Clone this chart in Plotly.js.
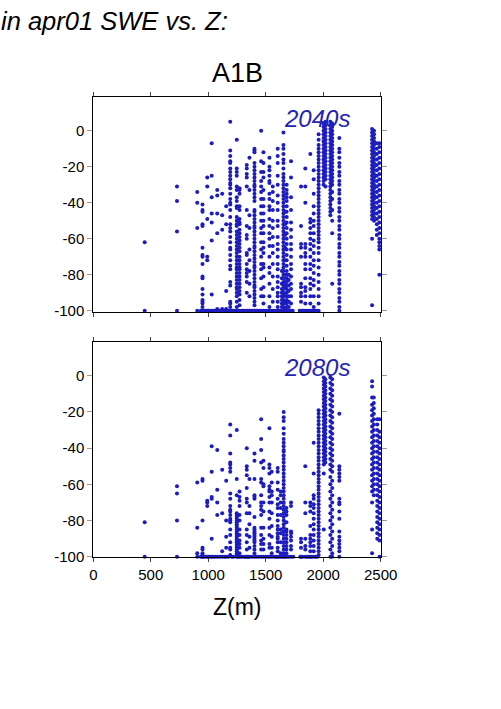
<!DOCTYPE html>
<html>
<head>
<meta charset="utf-8">
<script src="https://cdn.plot.ly/plotly-3.0.1.min.js"></script>
<style>html,body{margin:0;padding:0;background:#fff;}#chart{width:501px;height:709px;}</style>
</head>
<body>
<div id="chart"></div>
<script>
// ---------- data: panel 2040s (x = elevation column, ys = % change values) ----------
const cols2040 = [447, 728, 904, 950, 991, 1030, 1078, 1121, 1156, 1191, 1248, 1272, 1335, 1358, 1402, 1460, 1480, 1532, 1561, 1604, 1640, 1654, 1668, 1682, 1700, 1720, 1807, 1844, 1888, 1917, 1960, 2003, 2020, 2062, 2078, 2140, 2425, 2442, 2466, 2488];
const vals2040 = [
  [-62,-100],
  [-31,-39,-56,-100],
  [-34,-40,-54,-100],
  [-41,-44,-45,-52,-53,-65,-69,-70,-74,-81,-82,-88,-91,-94,-95,-96,-98,-100],
  [-26,-31,-49,-70,-72,-100],
  [-7,-25,-37,-46,-51,-61,-91,-100],
  [-33,-36,-46,-57,-99,-100],
  [-35,-47,-55,-99,-100],
  [-42,-52,-89,-99,-100],
  [5,-11,-14,-17,-18,-21,-23,-25,-27,-29,-30,-32,-35,-38,-40,-41,-44,-48,-52,-54,-56,-59,-62,-65,-66,-69,-72,-75,-77,-84,-86,-95,-96,-98,-100],
  [-5,-21,-23,-25,-31,-33,-37,-39,-42,-43,-48,-50,-52,-53,-56,-58,-60,-62,-64,-66,-68,-70,-72,-74,-76,-77,-79,-81,-83,-85,-87,-88,-90,-92,-95,-98,-100],
  [-32,-33,-35,-42,-44,-49,-51,-52,-55,-57,-59,-61,-63,-65,-67,-70,-72,-74,-76,-77,-79,-81,-83,-85,-87,-89,-91,-94,-97,-100],
  [-19,-21,-24,-26,-31,-44,-53,-58,-60,-68,-69,-74,-77,-79,-81,-84,-90,-100],
  [-15,-33,-47,-54,-66,-72,-78,-85,-92,-100],
  [-10,-11,-12,-18,-20,-22,-24,-26,-28,-30,-31,-33,-35,-37,-39,-44,-45,-47,-49,-51,-53,-54,-56,-58,-60,-62,-64,-65,-67,-69,-71,-73,-75,-76,-78,-80,-82,-84,-86,-87,-89,-91,-93,-95,-97,-100],
  [0,-17,-23,-28,-31,-34,-38,-42,-46,-50,-54,-57,-62,-66,-70,-74,-77,-82,-88,-92,-100],
  [-12,-18,-23,-26,-33,-38,-42,-46,-50,-53,-57,-62,-65,-68,-74,-76,-81,-87,-92,-96,-100],
  [-15,-20,-22,-25,-28,-29,-35,-38,-42,-44,-49,-53,-57,-60,-64,-70,-76,-79,-85,-92,-98,-100],
  [-31,-34,-39,-44,-50,-54,-59,-64,-68,-74,-81,-88,-95,-100],
  [-10,-14,-18,-25,-30,-36,-40,-44,-50,-53,-59,-63,-66,-70,-74,-77,-81,-84,-87,-90,-92,-95,-98,-100],
  [-78,-82,-85,-88,-90,-92,-94,-96,-98,-100],
  [-1,-8,-10,-13,-16,-18,-21,-24,-26,-28,-30,-32,-34,-36,-38,-40,-42,-44,-46,-48,-50,-52,-54,-56,-58,-60,-62,-64,-66,-68,-70,-72,-74,-76,-78,-80,-82,-84,-86,-88,-90,-92,-94,-96,-98,-100],
  [-45,-52,-58,-65,-72,-80,-84,-87,-91,-95,-99],
  [-30,-33,-35,-37,-39,-42,-45,-48,-51,-54,-57,-60,-63,-66,-69,-72,-75,-78,-80,-82,-84,-86,-88,-90,-92,-94,-96,-98,-100],
  [-80,-83,-86,-89,-92,-95,-98],
  [-17,-26,-37,-44,-51,-55,-59,-63,-66,-70,-74,-77,-81,-85,-88,-92,-96,-100],
  [-31,-53,-63,-65,-70,-85,-87,-90,-92,-95,-100],
  [-21,-31,-40,-63,-65,-68,-70,-74,-77,-82,-87,-89,-92,-96,-100],
  [-13,-49,-51,-54,-57,-60,-63,-66,-70,-74,-77,-82,-85,-88,-92,-96,-100],
  [-22,-27,-35,-42,-46,-50,-53,-57,-61,-64,-68,-72,-75,-79,-83,-86,-92,-98,-100],
  [-2,-5,-8,-10,-12,-14,-16,-18,-20,-22,-24,-26,-28,-30,-32,-34,-36,-38,-40,-42,-44,-46,-48,-50,-52,-54,-56,-58,-60,-62,-65,-68,-72,-76,-80,-84,-88,-92,-96,-100],
  [4,2,0,-2,-4,-6,-8,-10,-12,-14,-16,-18,-20,-22,-24,-26,-28,-30],
  [5,3,1,-1,-3,-5,-7,-9,-11,-13,-15,-17,-19,-21,-23,-25,-27,-31],
  [5,3,1,-1,-3,-5,-7,-9,-11,-13,-15,-17,-19,-21,-23,-25,-27,-29,-31,-33,-35,-37,-39,-41,-43,-45,-47],
  [4,2,0,-2,-4,-6,-8,-10,-12,-14,-16,-18,-20,-22,-24,-26,-28,-30,-34,-38,-44,-50,-57,-85],
  [-4,-10,-12,-15,-18,-20,-23,-25,-28,-30,-33,-35,-38,-40,-43,-45,-48,-50,-53,-55,-58,-60,-63,-65,-68,-70,-73,-75,-78,-80,-83,-85,-88,-90,-93,-95,-98,-100],
  [1,-1,-3,-5,-7,-9,-11,-13,-15,-17,-19,-21,-23,-25,-27,-29,-31,-33,-35,-37,-39,-41,-43,-45,-47,-49,-60,-97],
  [0,-2,-4,-6,-8,-10,-12,-14,-16,-18,-20,-22,-24,-26,-28,-30,-32,-34,-36,-38,-40,-42,-44,-46,-48,-50],
  [-7,-10,-13,-16,-19,-22,-25,-28,-31,-34,-37,-40,-43,-46,-49,-52,-55,-58],
  [-7,-9,-12,-15,-18,-21,-24,-27,-30,-33,-36,-39,-42,-45,-48,-51,-54,-57,-60,-62,-64,-66,-80]
];
const floor2040 = [935, 960, 972, 985, 1000, 1012, 1045, 1060, 1095, 1110, 1140, 1168, 1180, 1210, 1225, 1260, 1290, 1300, 1318, 1345, 1370, 1385, 1415, 1425, 1445, 1495, 1510, 1545, 1580, 1620, 1630, 1665, 1690, 1710, 1735, 1795, 1820, 1830, 1860, 1875, 1900, 1930, 1945];

// ---------- data: panel 2080s ----------
const cols2080 = [447, 728, 904, 950, 991, 1030, 1078, 1121, 1156, 1191, 1248, 1272, 1335, 1358, 1402, 1460, 1480, 1532, 1552, 1604, 1630, 1656, 1680, 1720, 1807, 1844, 1888, 1917, 1960, 2005, 2018, 2062, 2078, 2140, 2425, 2440, 2470, 2490];
const vals2080 = [
  [-81,-100],
  [-61,-65,-80,-100],
  [-59,-84,-98,-100],
  [-57,-58,-80,-95,-96,-98,-99,-100],
  [-69,-70,-72,-100],
  [-39,-53,-67,-68,-90,-100],
  [-41,-63,-70,-77,-100],
  [-52,-76,-97,-100],
  [-58,-80,-89,-95,-100],
  [-27,-33,-43,-48,-49,-51,-53,-65,-68,-72,-74,-75,-77,-79,-80,-81,-85,-88,-92,-95,-96,-99],
  [-30,-57,-66,-76,-77,-78,-79,-80,-81,-82,-83,-84,-85,-86,-87,-88,-89,-90,-91,-92,-93,-94,-95,-96,-97,-98,-99,-100],
  [-64,-67,-69,-72,-77,-80,-85,-88,-91,-93,-95,-98,-100],
  [-40,-50,-52,-55,-62,-68,-70,-76,-85,-88,-92,-96,-100],
  [-57,-72,-76,-82,-89,-95,-100],
  [-43,-47,-57,-66,-67,-68,-78,-84,-85,-86,-87,-88,-89,-90,-91,-92,-94,-96,-98,-100],
  [-24,-35,-41,-48,-57,-59,-66,-70,-72,-74,-77,-84,-88,-91,-93,-96,-100],
  [-47,-51,-60,-61,-70,-75,-84,-90,-93,-96,-100],
  [-29,-49,-51,-54,-61,-63,-64,-67,-70,-75,-79,-84,-88,-93,-95,-100],
  [-53,-59,-64,-66,-70,-76,-83,-89,-95,-98,-100],
  [-51,-53,-59,-63,-68,-71,-73,-77,-80,-83,-85,-87,-89,-90,-92,-95,-97,-100],
  [-64,-66,-70,-73,-77,-85,-87,-92,-98,-100],
  [-20,-23,-25,-29,-32,-35,-37,-39,-41,-42,-44,-46,-48,-50,-52,-54,-56,-58,-60,-62,-64,-66,-68,-70,-72,-74,-76,-78,-80,-82,-84,-86,-88,-90,-92,-94,-96,-98,-100],
  [-73,-75,-77,-81,-85,-86,-88,-90,-92,-94,-96,-98,-100],
  [-70,-72,-86,-87,-89,-91,-94,-96,-100],
  [-90,-92,-95,-100],
  [-50,-70,-76,-90,-94,-96,-100],
  [-70,-72,-75,-83,-88,-90,-92,-94,-97,-100],
  [-37,-54,-66,-68,-71,-73,-76,-79,-82,-85,-88,-91,-94,-97,-100],
  [-19,-21,-23,-25,-27,-29,-31,-33,-35,-37,-39,-41,-43,-45,-47,-49,-51,-53,-55,-57,-59,-61,-63,-65,-67,-69,-71,-73,-75,-77,-79,-81,-83,-85,-87,-89,-91,-93,-95,-97,-99],
  [-1,-3,-5,-7,-9,-11,-13,-15,-17,-19,-21,-23,-25,-27,-29,-31,-33,-35,-37,-39,-41,-43,-45,-47,-49,-54,-85],
  [-2,-4,-6,-8,-10,-12,-14,-16,-18,-20,-22,-24,-26,-28,-30,-32,-34,-36,-38,-40,-42,-44,-46,-48],
  [-1,-4,-7,-10,-13,-16,-19,-22,-25,-28,-31,-34,-37,-40,-43,-46,-49,-52,-56,-60,-64,-68,-72,-76,-80,-84,-88,-92,-96,-100],
  [-2,-5,-8,-11,-14,-17,-20,-23,-26,-29,-32,-35,-38,-41,-44,-47,-50,-53,-58,-62,-66,-70,-74,-78,-82,-86,-90,-94,-98,-100],
  [-21,-50,-52,-54,-56,-58,-68,-70,-71,-75,-79,-86,-89,-91,-93,-95,-97,-100],
  [-3,-6,-12,-16,-19,-22,-25,-28,-31,-34,-37,-40,-43,-46,-49,-52,-55,-58,-61,-64,-70,-85,-98],
  [-12,-15,-18,-21,-24,-27,-30,-33,-36,-39,-42,-45,-48,-51,-54,-57,-60,-63,-66],
  [-24,-27,-30,-33,-36,-39,-42,-45,-48,-51,-54,-57,-60,-63,-66,-69,-72,-75,-78,-81,-84,-87,-90],
  [-24,-31,-34,-37,-40,-43,-46,-49,-52,-55,-58,-61,-64,-67,-70,-73,-76,-79,-82,-85,-88,-91,-100]
];
const floor2080 = [935, 960, 975, 1000, 1015, 1045, 1060, 1100, 1140, 1175, 1205, 1220, 1260, 1290, 1310, 1320, 1345, 1380, 1420, 1440, 1500, 1520, 1575, 1590, 1615, 1645, 1670, 1700, 1740, 1800, 1820, 1860, 1875, 1900, 1935, 1950];
const floorValue = -100;

// ---------- ticks ----------
const xTickVals = [0, 500, 1000, 1500, 2000, 2500];
const xTickText = ['0', '500', '1000', '1500', '2000', '2500'];
const yTickVals = [-100, -80, -60, -40, -20, 0];
const yTickText = ['-100', '-80', '-60', '-40', '-20', '0'];

function flatten(cols, vals, floor) {
  const xs = [], ys = [];
  cols.forEach((c, i) => vals[i].forEach(v => { xs.push(c); ys.push(v); }));
  floor.forEach(f => { xs.push(f); ys.push(floorValue); });
  return {xs, ys};
}
const p1 = flatten(cols2040, vals2040, floor2040);
const p2 = flatten(cols2080, vals2080, floor2080);

const DOT = '#1c1cbf';
const FONT = 'Liberation Sans, Arial, Helvetica, sans-serif';
const traces = [
  {x: p1.xs, y: p1.ys, xaxis: 'x', yaxis: 'y', type: 'scatter', mode: 'markers',
   marker: {color: DOT, size: 4, line: {width: 0}}, cliponaxis: false, hoverinfo: 'skip'},
  {x: p2.xs, y: p2.ys, xaxis: 'x2', yaxis: 'y2', type: 'scatter', mode: 'markers',
   marker: {color: DOT, size: 4, line: {width: 0}}, cliponaxis: false, hoverinfo: 'skip'}
];

const W = 501, H = 709;
const xdom = [93.3 / W, 380.7 / W];
function xa(anchor, labels) {
  return {domain: xdom, anchor: anchor, range: [0, 2500], tickmode: 'array', tickvals: xTickVals, ticktext: xTickText,
    showticklabels: labels, ticks: 'outside', ticklen: 4, tickwidth: 1, tickcolor: '#444',
    showline: true, mirror: 'ticks', linecolor: '#000', linewidth: 1, showgrid: false, zeroline: false,
    tickfont: {family: FONT, size: 15, color: '#000'}, fixedrange: true};
}
function ya(anchor, dom, rng) {
  return {domain: dom, anchor: anchor, range: rng, tickmode: 'array', tickvals: yTickVals, ticktext: yTickText,
    ticks: 'outside', ticklen: 5, tickwidth: 1, tickcolor: '#999',
    showline: true, mirror: 'ticks', linecolor: '#000', linewidth: 1, showgrid: false, zeroline: false,
    tickfont: {family: FONT, size: 15, color: '#000'}, fixedrange: true};
}
function py(p) { return 1 - p / H; }

const layout = {
  width: W, height: H, margin: {l: 0, r: 0, t: 0, b: 0}, showlegend: false,
  paper_bgcolor: '#fff', plot_bgcolor: '#fff',
  xaxis: xa('y', false),
  yaxis: ya('x', [py(311.7), py(96.7)], [-100.55, 18.9]),
  xaxis2: xa('y2', true),
  yaxis2: ya('x2', [py(557.3), py(341.7)], [-100.3, 18.8]),
  annotations: [
    {text: '<i>in apr01 SWE vs. Z:</i>', xref: 'paper', yref: 'paper', x: -1 / W, y: py(21), xanchor: 'left', yanchor: 'middle',
     showarrow: false, font: {family: FONT, size: 25.5, color: '#000'}},
    {text: 'A1B', xref: 'paper', yref: 'paper', x: 237.5 / W, y: py(73), xanchor: 'center', yanchor: 'middle',
     showarrow: false, font: {family: FONT, size: 27, color: '#000'}},
    {text: '<i>2040s</i>', xref: 'paper', yref: 'paper', x: 316.5 / W, y: py(119), xanchor: 'center', yanchor: 'middle',
     showarrow: false, font: {family: FONT, size: 24, color: '#2323b8'}},
    {text: '<i>2080s</i>', xref: 'paper', yref: 'paper', x: 316.5 / W, y: py(367), xanchor: 'center', yanchor: 'middle',
     showarrow: false, font: {family: FONT, size: 24, color: '#2323b8'}},
    {text: 'Z(m)', xref: 'paper', yref: 'paper', x: 237.5 / W, y: py(607), xanchor: 'center', yanchor: 'middle',
     showarrow: false, font: {family: FONT, size: 23, color: '#000'}}
  ]
};

Plotly.newPlot('chart', traces, layout, {displayModeBar: false, staticPlot: true});
</script>
</body>
</html>
